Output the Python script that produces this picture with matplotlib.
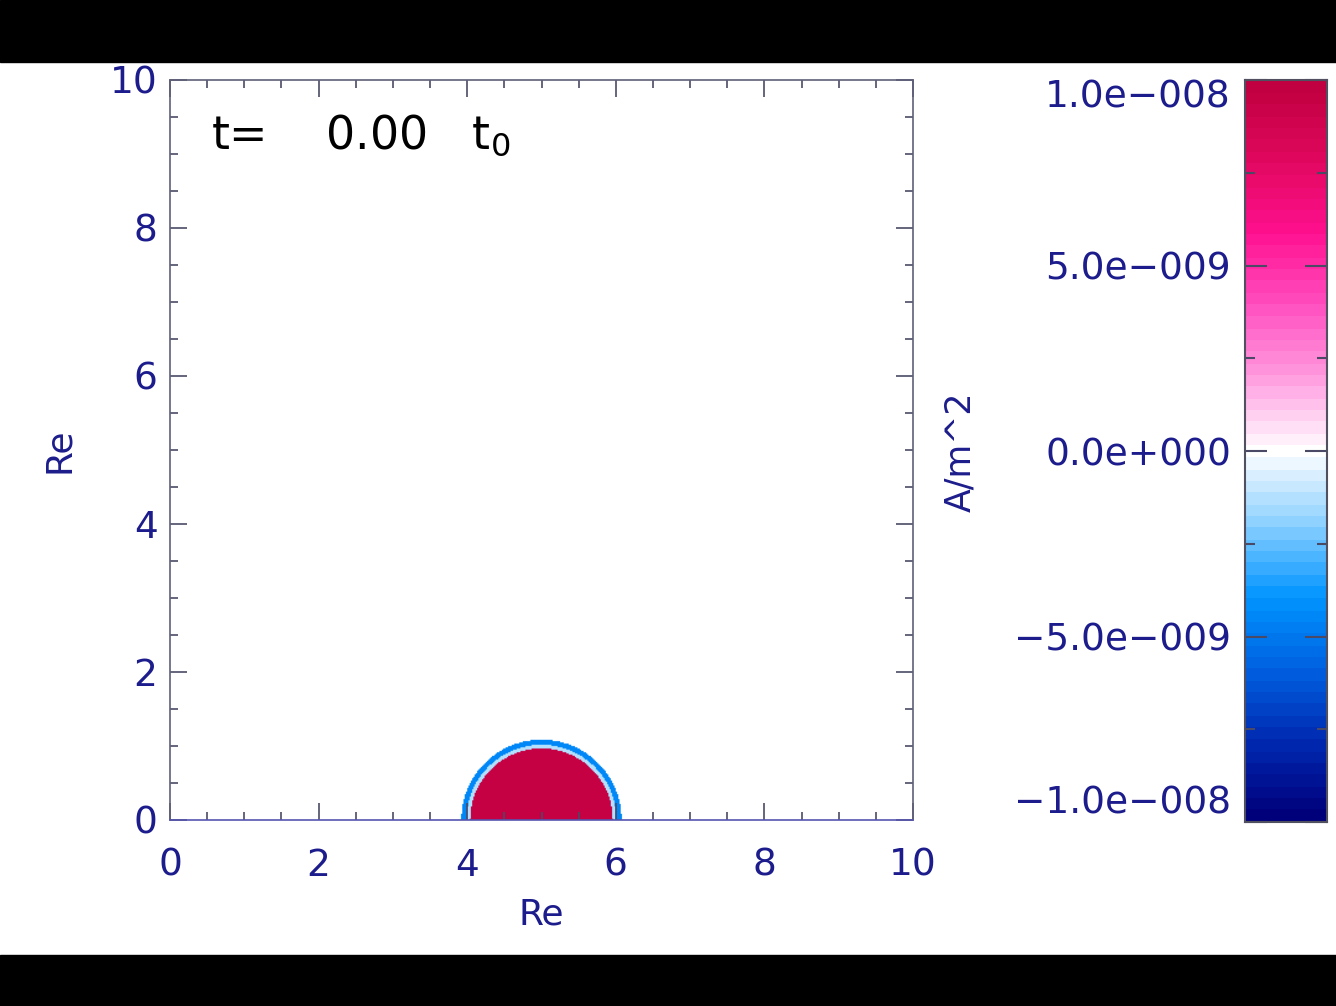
import numpy as np
import matplotlib
matplotlib.use("Agg")
import matplotlib.pyplot as plt
from matplotlib.colors import LinearSegmentedColormap
from matplotlib.patches import Rectangle
from matplotlib.ticker import MultipleLocator

# ---- data ----
x_range = [0.0, 10.0]
y_range = [0.0, 10.0]
blob_center = [5.0, 0.0]          # Re
profile_radii = [0.96, 1.01, 1.08]   # outer edge of each shell (Re)
profile_values = [9.6e-9, -1.2e-9, -4.5e-9]  # A/m^2 inside each shell
background_value = 0.0
vmin, vmax = -1.0e-8, 1.0e-8
cbar_ticks = [-1.0e-8, -5.0e-9, 0.0, 5.0e-9, 1.0e-8]
cbar_ticklabels = ["\u22121.0e\u2212008", "\u22125.0e\u2212009", "0.0e+000", "5.0e\u2212009", "1.0e\u2212008"]
cbar_minor = [-7.5e-9, -2.5e-9, 2.5e-9, 7.5e-9]
time_label = "t=    0.00   t$_\\mathregular{0}$"
cmap_colors = ["#00007a", "#0028b0", "#0060e0", "#0095ff", "#8cd0ff", "#ffffff",
               "#ff9ee0", "#ff50c0", "#ff1090", "#e0085e", "#c00040"]

# ---- field ----
nx, ny = 600, 600
xs = np.linspace(x_range[0], x_range[1], nx)
ys = np.linspace(y_range[0], y_range[1], ny)
X, Y = np.meshgrid(xs, ys)
R = np.hypot(X - blob_center[0], Y - blob_center[1])
conds = [R < profile_radii[0],
         (R >= profile_radii[0]) & (R < profile_radii[1]),
         (R >= profile_radii[1]) & (R < profile_radii[2])]
field = np.select(conds, profile_values, default=background_value)

navy = "#1c1c8c"
tickc = "#4a4a66"
cmap = LinearSegmentedColormap.from_list("idl", cmap_colors, N=63)

fig = plt.figure(figsize=(13.36, 10.06), dpi=100)
fig.patch.set_facecolor("white")
fig.patches.append(Rectangle((0, 1 - 62 / 1006), 1, 62 / 1006, transform=fig.transFigure,
                             color="black", zorder=0))
fig.patches.append(Rectangle((0, 0), 1, 51 / 1006, transform=fig.transFigure,
                             color="black", zorder=0))

ax = fig.add_axes([170 / 1336, 1 - 820 / 1006, 743 / 1336, 740 / 1006])
ax.set_facecolor("#fbfbfd")
ax.imshow(field, origin="lower", extent=[x_range[0], x_range[1], y_range[0], y_range[1]],
          cmap=cmap, vmin=vmin, vmax=vmax, interpolation="bilinear", aspect="auto")
ax.set_xlim(x_range)
ax.set_ylim(y_range)
ax.xaxis.set_major_locator(MultipleLocator(2))
ax.yaxis.set_major_locator(MultipleLocator(2))
ax.xaxis.set_minor_locator(MultipleLocator(0.5))
ax.yaxis.set_minor_locator(MultipleLocator(0.5))
ax.tick_params(which="both", direction="in", top=True, right=True, colors=tickc,
               labelcolor=navy, labelsize=27, width=1.2)
ax.tick_params(which="major", length=12)
ax.tick_params(which="minor", length=6)
ax.tick_params(axis="x", pad=20)
ax.tick_params(axis="y", pad=9)
for s in ax.spines.values():
    s.set_color("#606078")
    s.set_linewidth(1.2)
ax.spines["bottom"].set_color("#5555b0")
ax.set_xlabel("Re", color=navy, fontsize=26, labelpad=10)
ax.set_ylabel("Re", color=navy, fontsize=26, labelpad=24)
ax.text(0.055, 0.925, time_label, transform=ax.transAxes, fontsize=33,
        color="black", ha="left", va="center")

cax = fig.add_axes([1245 / 1336, 1 - 822 / 1006, 82 / 1336, 742 / 1006])
cb_vals = np.linspace(vmin, vmax, 400).reshape(-1, 1)
cax.imshow(cb_vals, origin="lower", extent=[0, 1, vmin, vmax], cmap=cmap,
           vmin=vmin, vmax=vmax, aspect="auto", interpolation="nearest")
cax.set_xlim(0, 1)
cax.set_ylim(vmin, vmax)
cax.set_xticks([])
cax.set_yticks(cbar_ticks)
cax.set_yticks(cbar_minor, minor=True)
cax.set_yticklabels(cbar_ticklabels)
cax.tick_params(which="both", direction="in", left=True, right=True, colors=tickc,
                labelcolor=navy, labelsize=27, width=1.5, pad=10)
cax.tick_params(which="major", length=16)
cax.tick_params(which="minor", length=7)
labs = cax.get_yticklabels()
labs[0].set_va("bottom")
labs[-1].set_va("top")
for s in cax.spines.values():
    s.set_color("#505060")
    s.set_linewidth(1.5)
fig.text(960 / 1336, 1 - 452 / 1006, "A/m^2", rotation=90, color=navy, fontsize=25,
         ha="center", va="center")

fig.savefig("out.png", dpi=100, facecolor="white")
